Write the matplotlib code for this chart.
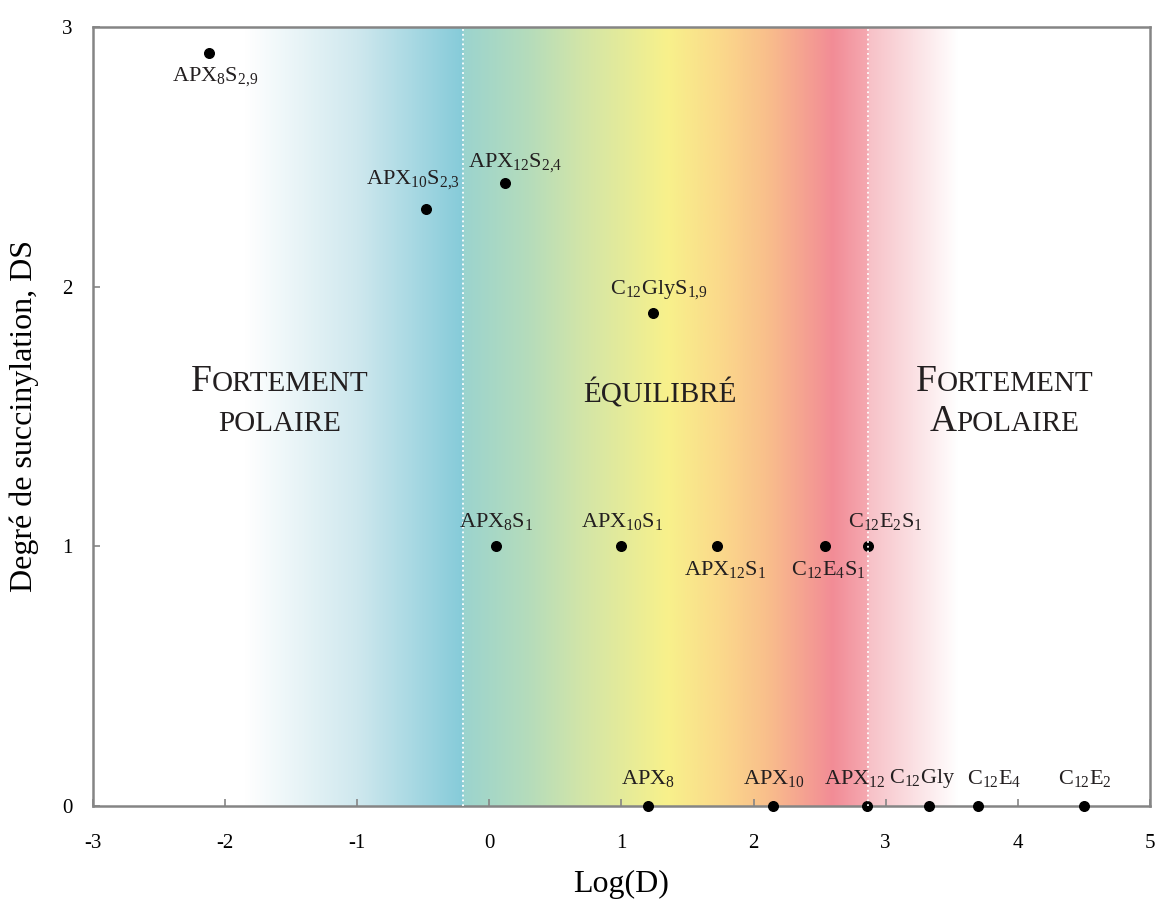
import matplotlib
matplotlib.use("Agg")
import matplotlib.pyplot as plt
import numpy as np
from matplotlib.colors import LinearSegmentedColormap
from matplotlib.offsetbox import TextArea, HPacker, AnnotationBbox

plt.rcParams['font.family'] = ['Liberation Serif', 'DejaVu Serif']
plt.rcParams['mathtext.fontset'] = 'custom'
plt.rcParams['mathtext.rm'] = 'Liberation Serif'
plt.rcParams['mathtext.it'] = 'Liberation Serif:italic'
plt.rcParams['mathtext.bf'] = 'Liberation Serif:bold'

# --- data ---
names = [r'APX$_{\mathrm{8}}$S$_{\mathrm{2{,}9}}$',
         r'APX$_{\mathrm{10}}$S$_{\mathrm{2{,}3}}$',
         r'APX$_{\mathrm{12}}$S$_{\mathrm{2{,}4}}$',
         r'C$_{\mathrm{12}}$GlyS$_{\mathrm{1{,}9}}$',
         r'APX$_{\mathrm{8}}$S$_{\mathrm{1}}$',
         r'APX$_{\mathrm{10}}$S$_{\mathrm{1}}$',
         r'APX$_{\mathrm{12}}$S$_{\mathrm{1}}$',
         r'C$_{\mathrm{12}}$E$_{\mathrm{4}}$S$_{\mathrm{1}}$',
         r'C$_{\mathrm{12}}$E$_{\mathrm{2}}$S$_{\mathrm{1}}$',
         r'APX$_{\mathrm{8}}$',
         r'APX$_{\mathrm{10}}$',
         r'APX$_{\mathrm{12}}$',
         r'C$_{\mathrm{12}}$Gly',
         r'C$_{\mathrm{12}}$E$_{\mathrm{4}}$',
         r'C$_{\mathrm{12}}$E$_{\mathrm{2}}$']
log_d = [-2.12, -0.48, 0.12, 1.24, 0.05, 1.00, 1.72, 2.54, 2.87,
         1.20, 2.15, 2.86, 3.33, 3.70, 4.50]
ds = [2.9, 2.3, 2.4, 1.9, 1.0, 1.0, 1.0, 1.0, 1.0,
      0.0, 0.0, 0.0, 0.0, 0.0, 0.0]

boundaries = [-0.2, 2.87]
x_ticks = [-3, -2, -1, 0, 1, 2, 3, 4, 5]
y_ticks = [0, 1, 2, 3]

# label offsets in pixels (dx, dy) relative to each point
label_offsets = [(6, -24), (-13, 29), (10, 20), (6, 23), (0, 25), (1, 25),
                 (9, -23), (3, -23), (17, 25), (0, 27), (0, 27), (-12, 27),
                 (-7, 27), (16, 27), (1, 27)]

# background colour stops along Log(D)
grad_stops = [(-3.0, '#ffffff'), (-1.85, '#ffffff'), (-1.0, '#cfe8ee'),
              (-0.21, '#86cbd9'), (-0.19, '#9cd4ce'), (0.3, '#b5dcbb'),
              (0.7, '#d2e5a8'), (1.35, '#f8f18b'), (1.75, '#fbd98b'),
              (2.1, '#f9bf8b'), (2.6, '#f28c96'), (2.86, '#f5a8b0'),
              (2.88, '#f7c1c7'), (3.55, '#ffffff'), (5.0, '#ffffff')]

fig = plt.figure(figsize=(11.58, 9.06), dpi=100)
ax = fig.add_axes([0.0803, 0.1104, 0.9127, 0.8598])

# gradient background
pos = [(p - (-3.0)) / 8.0 for p, c in grad_stops]
cmap = LinearSegmentedColormap.from_list('bg', list(zip(pos, [c for p, c in grad_stops])), N=1024)
ax.imshow(np.linspace(0, 1, 2000)[None, :], extent=[-3, 5, 0, 3], aspect='auto',
          cmap=cmap, origin='lower', zorder=0, interpolation='bilinear')

ax.scatter(log_d, ds, s=48, color='black', zorder=3, clip_on=False)

for b in boundaries:
    ax.axvline(b, color='white', linestyle=':', linewidth=1.3, zorder=4)

for name, x, y, (dx, dy) in zip(names, log_d, ds, label_offsets):
    ax.annotate(name, (x, y), xytext=(dx, dy), textcoords='offset pixels',
                ha='center', va='center', fontsize=16, color='#231f20', zorder=5)


def small_caps(x, y, parts):
    boxes = [TextArea(t, textprops=dict(size=s, color='#231f20')) for t, s in parts]
    pack = HPacker(children=boxes, align='baseline', pad=0, sep=0)
    ab = AnnotationBbox(pack, (x, y), frameon=False, box_alignment=(0.5, 0.0),
                        pad=0, zorder=5)
    ax.add_artist(ab)


big, small = 27, 21
small_caps(-1.585, 1.566, [('F', big), ('ORTEMENT', small)])
small_caps(-1.585, 1.422, [('POLAIRE', small)])
small_caps(1.29, 1.532, [('ÉQUILIBRÉ', small)])
small_caps(3.90, 1.566, [('F', big), ('ORTEMENT', small)])
small_caps(3.90, 1.412, [('A', big), ('POLAIRE', small)])

ax.set_xlim(-3, 5)
ax.set_ylim(0, 3)
ax.set_xticks(x_ticks)
ax.set_yticks(y_ticks)
ax.set_xticklabels([str(t) for t in x_ticks])
ax.set_yticklabels([str(t) for t in y_ticks])
ax.tick_params(axis='x', direction='in', length=5, width=1.2, color='#858585',
               labelsize=15, pad=20)
ax.tick_params(axis='y', direction='in', length=5, width=1.2, color='#858585',
               labelsize=15, pad=15)
for sp in ax.spines.values():
    sp.set_color('#858585')
    sp.set_linewidth(1.8)

ax.set_xlabel('Log(D)', fontsize=23, labelpad=12)
ax.set_ylabel('Degré de succinylation, DS', fontsize=23, labelpad=16)

fig.savefig('out.png', dpi=100)
